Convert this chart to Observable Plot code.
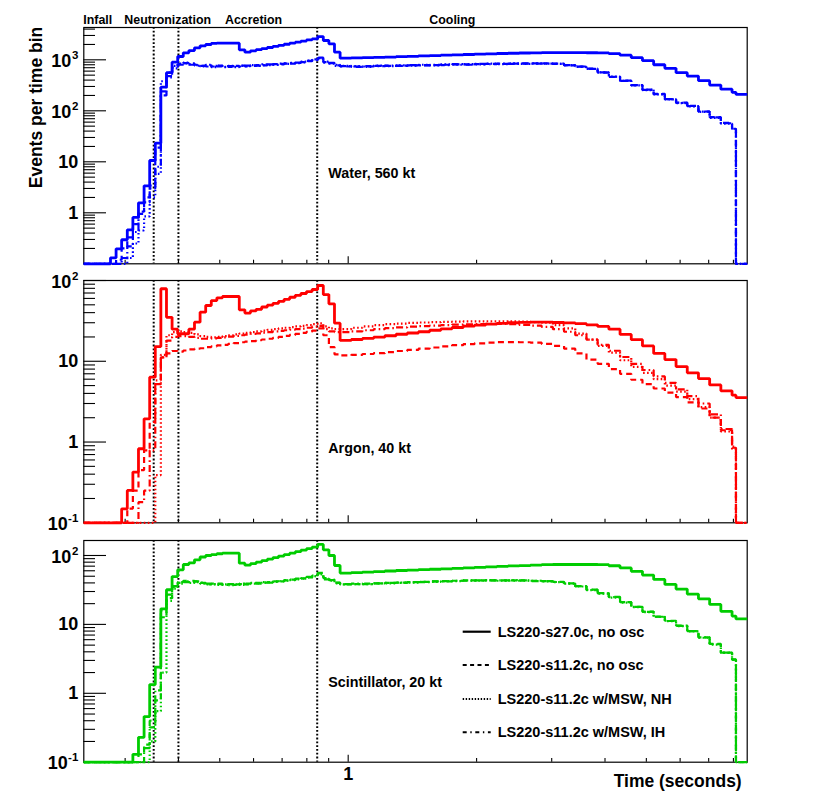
<!DOCTYPE html>
<html><head><meta charset="utf-8">
<script src="https://cdn.jsdelivr.net/npm/d3@7"></script>
<script src="https://cdn.jsdelivr.net/npm/@observablehq/plot@0.6"></script>
<style>
body{margin:0;background:#fff;}
#wrap{position:relative;width:830px;height:803px;overflow:hidden;}
#wrap svg{position:absolute;left:0;}
</style></head><body><div id="wrap"></div>
<script>
// ---------- DATA ----------
// time-bin edges (seconds), shared by all histograms
const edges = [0.2400,0.2772,0.2857,0.2944,0.3035,0.3128,0.3224,0.3323,0.3425,0.3530,
0.3638,0.3750,0.3865,0.3984,0.4106,0.4232,0.4362,0.4496,0.4634,0.4776,
0.4922,0.5074,0.5229,0.5390,0.5555,0.5726,0.5901,0.6083,0.6269,0.6462,
0.6660,0.6864,0.7075,0.7292,0.7516,0.7747,0.7985,0.8230,0.8482,0.8743,
0.9011,0.9287,0.9573,1.0169,1.0802,1.1475,1.2190,1.2950,1.3757,1.4614,
1.5525,1.6492,1.7520,1.8612,1.9772,2.1004,2.2313,2.3703,2.5180,2.6750,
2.8417,3.0188,3.2069,3.4067,3.6190,3.8445,4.0841,4.3386,4.6090,4.8962,
5.2013,5.5254,5.8697,6.2355,6.6241,7.0369,7.4754,7.9412,8.1104,8.6179];

// Water, 560 kt
const waterS27 = [0.1,0.131,0.197,0.296,0.464,0.81,1.57,3.38,10.6,23.2,
290,560,897,1160,1370,1520,1720,1880,1995,2100,
2120,2130,2130,2120,1570,1410,1500,1580,1660,1745,
1830,1920,2020,2120,2220,2330,2450,2570,2860,2390,
2060,1410,1075,1090,1100,1115,1130,1150,1170,1190,
1210,1230,1250,1270,1290,1310,1330,1345,1360,1370,
1380,1385,1385,1380,1375,1365,1320,1230,1100,960,
800,680,560,480,390,320,265,230,210];
const waterS11 = [0.1,0.1,0.12,0.2,0.33,0.6,1.05,2.0,3.4,19,
240,480,700,820,860,850,800,760,780,740,
770,750,730,760,740,770,760,790,780,800,
820,810,850,840,870,900,940,1000,1080,900,
860,780,740,730,750,760,760,770,780,790,
790,800,810,810,820,830,830,840,840,850,
850,840,780,740,670,560,460,390,320,260,
215,170,145,125,97,75,58,45,0.1];
const waterNH = [0.1,0.1,0.1,0.1,0.13,0.25,0.45,0.85,2.0,5.8,
380,560,760,840,880,820,790,740,800,720,
760,730,760,720,760,750,790,760,810,790,
800,840,830,870,860,920,960,1020,1050,920,
840,800,760,750,730,770,750,780,770,800,
780,810,800,820,810,840,820,850,830,850,
840,830,790,730,660,570,470,385,315,255,
210,168,142,122,95,73,56,44,0.1];
const waterIH = [0.1,0.1,0.1,0.13,0.22,0.42,0.95,1.6,3.0,8,
200,450,680,800,850,800,770,760,740,760,
740,720,750,740,770,740,780,770,790,810,
800,830,840,860,880,890,950,980,1100,880,
870,760,750,740,740,750,770,760,790,780,
800,790,820,800,830,820,840,830,850,840,
845,835,785,735,665,565,465,388,318,258,
212,169,143,123,96,74,57,44.5,0.1];

// Argon, 40 kt
const argonS27 = [0.1,0.1,0.1,0.149,0.252,0.425,0.826,1.94,6.35,15.2,
79,35,25,21.9,21.9,25,30.5,40.5,49,56.5,
61,63.4,63.4,63.4,43.4,39.5,42,44,47,49.5,
52,55,58.5,62,65.5,69,73,77.4,86.7,67,
51.4,29.6,18.1,18.6,19.2,19.9,20.7,21.6,22.4,23.2,
24.2,25.2,26.2,27.2,28,28.8,29.5,30,30.3,30.5,
30.5,30.2,29.8,29.2,28.3,27,25,21.5,18.5,15.5,
12.5,10.5,8.6,7.2,6.1,5.1,4.3,3.8,3.55];
const argonS11 = [0.1,0.1,0.1,0.1,0.15,0.25,0.45,0.79,1.77,5.2,
11.2,12.5,13.4,13.2,13.6,14,14.3,14.5,15,15.3,
15.7,16,16.4,16.8,17.2,17.5,17.8,18.2,18.6,19,
19.5,20,20.6,21.2,21.8,22.5,23.2,24,25.5,21,
15,12.2,11.8,12,12.3,12.6,13,13.4,13.8,14.3,
14.8,15.3,15.8,16.3,16.7,17,17.3,17.3,17.2,17,
16.4,15.5,14.3,12.5,10.5,9.3,8,7,5.9,5.2,
4.6,4.1,3.6,3.1,2.6,2.0,1.4,0.85,0.1];
const argonNH = [0.1,0.1,0.1,0.1,0.1,0.1,0.1,0.1,0.1,0.39,
12,21,23,23.5,23,22.5,21.5,20.5,20,19.8,
20,20.5,21,21.5,22,22.5,23,23.5,24,24.5,
25,25.5,26,26.5,27,27.5,28,28.8,29.5,27,
25.5,25,25,26,27,28,28.8,29.3,29.8,30.2,
30.5,30.8,31,31.2,31.2,31.3,31.3,31.2,31,30.6,
30,28,25.5,22,18.5,15.5,12.8,10.3,8.5,7.2,
6,5,4.2,3.4,2.7,2.0,1.35,0.82,0.1];
const argonIH = [0.1,0.1,0.1,0.1,0.1,0.1,0.18,0.25,0.79,5.8,
11.2,18,20,20.5,20.5,20,19.5,19,19,19.2,
19.5,19.8,20.2,20.6,21,21.4,21.8,22.2,22.6,23,
23.4,23.8,24.2,24.6,25,25.4,26,26.8,27.5,25,
23.5,23,23,23.5,24.2,25,25.7,26.3,26.8,27.3,
27.7,28.1,28.4,28.7,28.9,29,29,28.8,28.3,27.6,
26.6,25,23.2,21,18.5,16,13.5,11.3,9.3,7.8,
6.5,5.4,4.5,3.7,3.0,2.2,1.45,0.88,0.1];

// Scintillator, 20 kt
const scintS27 = [0.1,0.1,0.1,0.1,0.1,0.13,0.23,0.46,1.34,2.4,
16.8,31.8,49.5,62,74,78,86.5,95,100,103,
106,108,108,108,77.4,72.4,76,80,84,88.5,
93,98,103,108,113.6,119.5,125.6,132,144.5,121,
100,71.6,55.5,56.5,57.5,58.5,59.5,60.5,61.5,62.3,
63.1,64,65,66,67,68.5,69.5,70.5,71.5,72.5,
73.5,74,74,74,74,73.5,71,66,59,52,
45,38,32.5,27.5,23.5,19.5,15.5,13.2,12];
const scintS11 = [0.1,0.1,0.1,0.1,0.1,0.1,0.13,0.18,0.32,0.79,
12.7,24,34.7,40,41,43,42,40,38,39,
38.5,38,38.5,38,38.5,39,39.5,40,40.5,41,
42,42.5,43.5,44.5,45.5,46.5,48,51,55,47,
44,40,38.5,38.5,39,39.5,40,40.5,41,41.5,
42,42.5,43,43.5,43.5,43.5,43.5,43.5,43.5,43,
42.5,41.5,39.5,36,32,28.5,25,21,18,15.3,
13,11.3,9.6,8,6.5,5.2,3.9,3.1,0.1];
const scintNH = [0.1,0.1,0.1,0.1,0.1,0.1,0.1,0.1,0.2,0.55,
2.0,22,33,39,42,40,41,39,38,38.5,
37.5,38,37,38,37.5,38.5,39,39.5,40.5,41,
41.5,42.5,43,44.5,45,46.5,47.5,50,53,46,
43,39.5,38,38.5,38.5,39.5,39.5,40.5,40.5,41.5,
41.5,42.5,42.5,43.5,43,44,43,44,43,43,
42,41,39,35.5,31.5,28,24.5,20.7,17.8,15.1,
12.8,11.1,9.4,7.9,6.4,5.1,3.85,3.05,0.1];
const scintIH = [0.1,0.1,0.1,0.1,0.1,0.1,0.1,0.16,0.4,1.1,
16,27,36,41,43,41,42,40.5,39,38,
39,37.5,38.5,37.5,39,38,40,39,41,40.5,
42,42,44,44,46,46,49,50,56,45,
44.5,40.5,38,39,38.5,39.5,40,40,41,41,
42,42,43,43,43.5,43.5,43.5,43,43.5,42.5,
42.5,41.2,39.2,35.8,31.8,28.2,24.8,21,18,15.2,
12.9,11.2,9.5,8,6.5,5.15,3.9,3.08,0.1];

// phase boundaries (seconds) and labels
const phaseBoundaries = [0.35, 0.40, 0.846];
const phaseNames = ["Infall", "Neutronization", "Accretion", "Cooling"];
const panelNames = ["Water, 560 kt", "Argon, 40 kt", "Scintillator, 20 kt"];
const legendLabels = ["LS220-s27.0c, no osc", "LS220-s11.2c, no osc", "LS220-s11.2c w/MSW, NH", "LS220-s11.2c w/MSW, IH"];
// y tick labels per panel: value, base, exponent
const waterYTicks = [[1000,"10","3"],[100,"10","2"],[10,"10",""],[1,"1",""]];
const argonYTicks = [[100,"10","2"],[10,"10",""],[1,"1",""],[0.1,"10","-1"]];
const scintYTicks = [[100,"10","2"],[10,"10",""],[1,"1",""],[0.1,"10","-1"]];
const xMajorTicks = [1];
const xMinorTicks = [0.3,0.4,0.5,0.6,0.7,0.8,0.9,2,3,4,5,6,7,8];
const xTickLabels = ["1"];

// ---------- LAYOUT ----------
const W = 830, ML = 83.3, MR = 83.3, FW = W - ML - MR;
const FONT = "'Liberation Sans', Arial, Helvetica, sans-serif";
const styles = [
  {dash: null, width: 2.8},
  {dash: "6,4", width: 2.2},
  {dash: "1.6,2.4", width: 2.2},
  {dash: "7,3,1.6,3", width: 2.2}
];
const panels = [
  {top: 0, height: 270, mt: 27, mb: 6.7, domain: [0.1, 4300], color: "#0000ff",
   series: [waterS27, waterS11, waterNH, waterIH], yticks: waterYTicks, xlabels: false},
  {top: 270, height: 260, mt: 10, mb: 7.7, domain: [0.1, 100], color: "#ff0000",
   series: [argonS27, argonS11, argonNH, argonIH], yticks: argonYTicks, xlabels: false},
  {top: 530, height: 273, mt: 10, mb: 41.3, domain: [0.1, 165], color: "#00cc00",
   series: [scintS27, scintS11, scintNH, scintIH], yticks: scintYTicks, xlabels: true}
];

function stepData(values) {
  const pts = values.map((v, i) => ({t: edges[i], v}));
  pts.push({t: edges[edges.length - 1], v: values[values.length - 1]});
  return pts;
}
function yMinor(domain) {
  const out = [];
  for (let e = -1; e <= 3; e++) for (let k = 2; k <= 9; k++) {
    const v = k * Math.pow(10, e);
    if (v > domain[0] * 1.001 && v < domain[1]) out.push(v);
  }
  return out;
}
function yMajor(domain) {
  const out = [];
  for (let e = -1; e <= 4; e++) { const v = Math.pow(10, e); if (v >= domain[0] * 0.999 && v <= domain[1] * 1.001) out.push(v); }
  return out;
}

const wrap = document.getElementById("wrap");

panels.forEach((p) => {
  const FH = p.height - p.mt - p.mb;
  const marks = [
    Plot.frame({stroke: "black", strokeWidth: 1.2}),
    Plot.tickY(yMajor(p.domain), {y: d => d, insetRight: FW - 22.7, stroke: "black", strokeWidth: 1.1}),
    Plot.tickY(yMinor(p.domain), {y: d => d, insetRight: FW - 11.7, stroke: "black", strokeWidth: 1.1}),
    Plot.tickX(xMinorTicks, {x: d => d, insetTop: FH - 3.6, stroke: "black", strokeWidth: 1.1}),
    Plot.tickX(xMajorTicks, {x: d => d, insetTop: FH - 7, stroke: "black", strokeWidth: 1.1}),
    Plot.ruleX(phaseBoundaries, {x: d => d, stroke: "black", strokeWidth: 2, strokeDasharray: "1.8,2"})
  ];
  // draw the s11.2c curves first, solid on top
  [1, 2, 3, 0].forEach(si => {
    const st = styles[si];
    const o = {x: "t", y: "v", curve: "step-after", stroke: p.color, strokeWidth: st.width, strokeLinejoin: "miter", strokeLinecap: "butt"};
    if (st.dash) o.strokeDasharray = st.dash;
    marks.push(Plot.line(stepData(p.series[si]), o));
  });
  // y tick labels
  p.yticks.forEach(([v, base, exp]) => {
    const baseDx = exp === "" ? -5.5 : (exp.length > 1 ? -16 : -12.5);
    marks.push(Plot.text([v], {y: d => d, text: () => base, frameAnchor: "left", textAnchor: "end",
      dx: baseDx, dy: exp === "" ? 0 : 1.5, fontSize: 18, fontWeight: "bold", fill: "black"}));
    if (exp !== "") {
      marks.push(Plot.text([v], {y: d => d, text: () => exp, frameAnchor: "left", textAnchor: "end",
        dx: -5.5, dy: -4.5, fontSize: 11.5, fontWeight: "bold", fill: "black"}));
    }
  });
  if (p.xlabels) {
    marks.push(Plot.text(xMajorTicks, {x: d => d, text: (d, i) => xTickLabels[i], frameAnchor: "bottom",
      dy: 17.5, fontSize: 18, fontWeight: "bold", fill: "black"}));
  }
  const svg = Plot.plot({
    width: W, height: p.height,
    marginLeft: ML, marginRight: MR, marginTop: p.mt, marginBottom: p.mb,
    x: {type: "log", domain: [edges[0], edges[edges.length - 1]], axis: null},
    y: {type: "log", domain: p.domain, axis: null},
    style: {fontFamily: FONT, background: "transparent", overflow: "visible"},
    marks
  });
  svg.style.top = p.top + "px";
  wrap.appendChild(svg);
});

// ---------- annotations overlay (text + legend) ----------
const ov = d3.select(wrap).append("svg")
  .attr("width", W).attr("height", 803)
  .style("top", "0px").style("pointer-events", "none")
  .style("font-family", FONT).style("font-weight", "bold");

const phaseX = [83.3, 124.3, 225, 429.3];
phaseNames.forEach((n, i) => ov.append("text").attr("x", phaseX[i]).attr("y", 24.3)
  .attr("font-size", 12.4).text(n));

const panelLabelY = [178.3, 452.5, 687];
panelNames.forEach((n, i) => ov.append("text").attr("x", 328.3).attr("y", panelLabelY[i])
  .attr("font-size", 14.3).text(n));

ov.append("text").attr("transform", "translate(41.7,107.5) rotate(-90)")
  .attr("text-anchor", "middle").attr("font-size", 17.5).text("Events per time bin");
ov.append("text").attr("x", 741.7).attr("y", 787).attr("text-anchor", "end")
  .attr("font-size", 17.5).text("Time (seconds)");

const legY = [631.7, 665, 699, 732.3];
const legDash = [null, "4,3.4", "1.4,1.6", "4,3.6,1.4,3.6"];
const legW = [2.2, 2, 1.8, 2];
legendLabels.forEach((lab, i) => {
  const l = ov.append("line").attr("x1", 462.7).attr("x2", 490.7).attr("y1", legY[i]).attr("y2", legY[i])
    .attr("stroke", "black").attr("stroke-width", legW[i]);
  if (legDash[i]) l.attr("stroke-dasharray", legDash[i]);
  ov.append("text").attr("x", 497.7).attr("y", legY[i] + 5).attr("font-size", 14.5).text(lab);
});
</script></body></html>
